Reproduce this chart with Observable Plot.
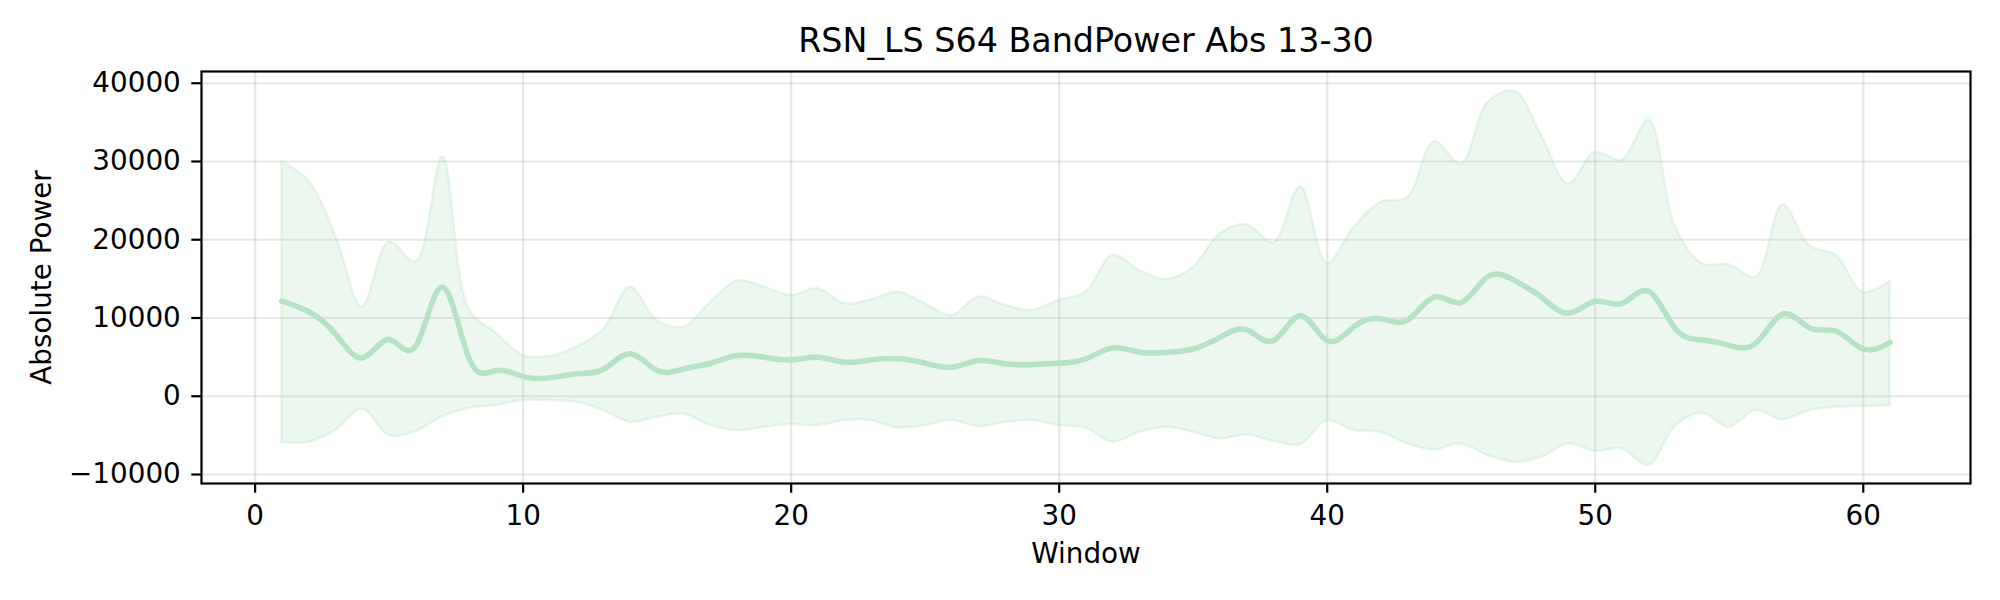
<!DOCTYPE html>
<html>
<head>
<meta charset="utf-8">
<script src="https://cdn.jsdelivr.net/npm/d3@7"></script>
<script src="https://cdn.jsdelivr.net/npm/@observablehq/plot@0.6"></script>
<style>
  html, body { margin: 0; padding: 0; background: white; }
  #chart { width: 2000px; height: 600px; }
</style>
</head>
<body>
<div id="chart"></div>
<script>
const chartTitle = "RSN_LS S64 BandPower Abs 13-30";
const xLabel = "Window";
const yLabel = "Absolute Power";

const windows = [1,2,3,4,5,6,7,8,9,10,11,12,13,14,15,16,17,18,19,20,21,22,23,24,25,26,27,28,29,30,31,32,33,34,35,36,37,38,39,40,41,42,43,44,45,46,47,48,49,50,51,52,53,54,55,56,57,58,59,60,61];

const meanPower = [12150,10800,7970,4900,7250,6450,13950,4700,3300,2520,
                   2350,2860,3450,5420,3280,3500,4220,5200,4990,4650,
                   4990,4350,4650,4780,4220,3710,4560,4140,4050,4220,
                   4780,6180,5630,5600,6040,7530,8470,7110,10300,7110,
                   8890,9910,9740,12680,12000,15300,14770,12640,10600,12130,
                   11870,13400,8600,7190,6500,6800,10510,8720,8300,6040,6890];

const upperBand = [29940,27500,20550,11390,19700,17140,30580,10960,8060,5200,
                   5070,6270,8490,13940,9680,8830,12030,14710,13940,12880,
                   13730,11810,12320,13300,11810,10320,12660,11600,10960,12240,
                   13300,18000,16080,14890,16470,20720,21910,19570,26770,16980,
                   21570,24770,25400,32550,29660,37530,38940,33280,27110,31150,
                   30170,35280,21570,16890,16810,15190,24470,19230,17960,13280,14640];

const lowerBand = [-5880,-5880,-4390,-1620,-5030,-4500,-2600,-1540,-1190,-550,
                   -550,-770,-1830,-3330,-2690,-2260,-3750,-4390,-3970,-3620,
                   -3750,-3110,-3110,-4050,-3750,-3110,-3880,-3330,-3110,-3750,
                   -4050,-5880,-4600,-3960,-4600,-5450,-4940,-5740,-6170,-3110,
                   -4380,-4600,-6090,-6850,-6090,-7570,-8430,-7790,-6090,-7020,
                   -6720,-8850,-3740,-2170,-3960,-1830,-3020,-1830,-1400,-1320,-1190];

const xTicks = [0,10,20,30,40,50,60];
const yTicks = [-10000,0,10000,20000,30000,40000];

const rows = windows.map((w, i) => ({w, mean: meanPower[i], lo: lowerBand[i], hi: upperBand[i]}));

const fontSize = 27.8;
const gridStyle = {stroke: "#b0b0b0", strokeOpacity: 0.3, strokeWidth: 2.2};

const plot = Plot.plot({
  width: 2000,
  height: 600,
  marginLeft: 201,
  marginRight: 30,
  marginTop: 71,
  marginBottom: 117,
  style: {fontFamily: "'DejaVu Sans', sans-serif", fontSize: fontSize + "px", background: "white", color: "black"},
  x: {domain: [-2, 64]},
  y: {domain: [-11150, 41500]},
  marks: [
    Plot.gridX(xTicks, gridStyle),
    Plot.gridY(yTicks, gridStyle),
    Plot.areaY(rows, {x: "w", y1: "lo", y2: "hi", fill: "#a8ddb5", fillOpacity: 0.22,
                      stroke: "#a8ddb5", strokeOpacity: 0.25, strokeWidth: 2.5, curve: "catmull-rom"}),
    Plot.line(rows, {x: "w", y: "mean", stroke: "#b6e2c6", strokeWidth: 5.5, curve: "natural"}),
    Plot.frame({stroke: "black", strokeWidth: 2.2}),
    Plot.axisX(xTicks, {tickSize: 9.7, tickPadding: 12, strokeWidth: 2.2, fontSize: fontSize, label: null, tickFormat: d3.format("d")}),
    Plot.axisY(yTicks, {tickSize: 9.7, tickPadding: 11, strokeWidth: 2.2, fontSize: fontSize, label: null, tickFormat: d3.format("d")}),
    Plot.text([chartTitle], {frameAnchor: "top", lineAnchor: "middle", dy: -30, fontSize: 33.3, fill: "black"}),
    Plot.text([xLabel], {frameAnchor: "bottom", lineAnchor: "middle", dy: 71, fontSize: fontSize, fill: "black"}),
    Plot.text([yLabel], {frameAnchor: "left", textAnchor: "middle", lineAnchor: "middle", dx: -159, rotate: -90, fontSize: fontSize, fill: "black"})
  ]
});
document.getElementById("chart").appendChild(plot);
</script>
</body>
</html>
